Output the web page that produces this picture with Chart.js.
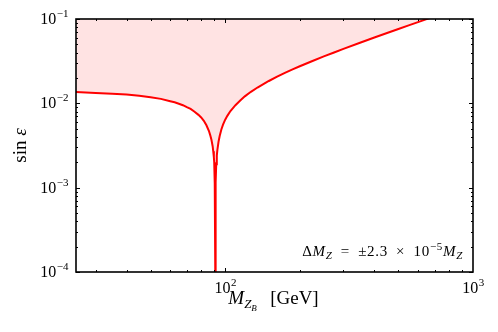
<!DOCTYPE html>
<html>
<head>
<meta charset="utf-8">
<script src="https://cdn.jsdelivr.net/npm/chart.js@4.4.0/dist/chart.umd.min.js"></script>
<style>
  html, body { margin: 0; padding: 0; background: #fff; }
  canvas { display: block; }
</style>
</head>
<body>
<canvas id="chart" width="498" height="332"></canvas>
<script>
// curve: M_ZB [GeV] -> sin eps
const massGeV = [25, 30, 35, 40, 45, 50, 55, 60, 62.5, 65, 67.5, 70, 72.5, 75, 78, 80, 82, 84, 86, 87, 88, 89, 89.5, 90, 90.3, 90.6, 90.9, 91.19,
                 91.5, 92, 92.5, 93, 94, 95, 96.5, 98, 100, 102, 105, 110, 115, 120, 127, 135, 142, 150, 162, 175, 187, 200,
                 225, 250, 275, 300, 350, 400, 450, 500, 550, 600, 650, 700];
const sinEps = [0.0136, 0.0133, 0.0130, 0.0127, 0.0123, 0.0118, 0.0113, 0.0106, 0.0103, 0.0099, 0.0095, 0.0090, 0.0086, 0.0080, 0.0073, 0.0068, 0.0062, 0.0055, 0.0047, 0.0042, 0.0037, 0.0031, 0.0027, 0.0023, 0.0020, 0.0016, 0.00112, 0.0001,
                0.00116, 0.0019, 0.0024, 0.0028, 0.0035, 0.0041, 0.0049, 0.0056, 0.0064, 0.0071, 0.0081, 0.0095, 0.0108, 0.0121, 0.0137, 0.0154, 0.0168, 0.0184, 0.0207, 0.0231, 0.0253, 0.0275,
                0.0318, 0.0360, 0.0401, 0.0442, 0.0523, 0.0603, 0.0682, 0.0761, 0.0839, 0.0918, 0.0996, 0.1074];

const xMajor = [100, 1000];
const xMinor = [30, 40, 50, 60, 70, 80, 90, 200, 300, 400, 500, 600, 700, 800, 900];
const yMajor = [1e-4, 1e-3, 1e-2, 1e-1];
const yMajorExp = ['\u22124', '\u22123', '\u22122', '\u22121'];
const yMinorMant = [2, 3, 4, 5, 6, 7, 8, 9];

const serif = '"Liberation Serif", "DejaVu Serif", serif';

const points = massGeV.map((m, i) => ({ x: m, y: sinEps[i] }));

function drawPow(ctx, exp, x, y, align) {
  // "10" with a raised exponent
  ctx.font = '16px ' + serif;
  const wb = ctx.measureText('10').width;
  ctx.font = '11px ' + serif;
  const we = ctx.measureText(exp).width;
  let x0 = x;
  if (align === 'right') x0 = x - wb - we;
  if (align === 'center') x0 = x - (wb + we) / 2;
  ctx.textAlign = 'left';
  ctx.textBaseline = 'alphabetic';
  ctx.font = '16px ' + serif;
  ctx.fillText('10', x0, y);
  ctx.font = '11px ' + serif;
  ctx.fillText(exp, x0 + wb + 0.5, y - 7);
}

function drawRuns(ctx, runs, x, y) {
  runs.forEach(p => {
    ctx.font = p[1];
    ctx.fillText(p[0], x, y + p[2]);
    x += ctx.measureText(p[0]).width;
  });
}

function runsWidth(ctx, runs) {
  let w = 0;
  runs.forEach(p => { ctx.font = p[1]; w += ctx.measureText(p[0]).width; });
  return w;
}

const framePlugin = {
  id: 'frame',
  afterDraw(chart) {
    const ctx = chart.ctx;
    const a = chart.chartArea;
    const xs = chart.scales.x, ys = chart.scales.y;
    ctx.save();
    ctx.fillStyle = '#000';
    ctx.strokeStyle = '#000';

    // ticks, inward on all sides
    ctx.lineWidth = 1;
    ctx.beginPath();
    xMajor.concat(xMinor).forEach(v => {
      const len = xMajor.includes(v) ? 4 : 2;
      const px = Math.round(xs.getPixelForValue(v)) + 0.5;
      if (px < a.left || px > a.right) return;
      ctx.moveTo(px, a.bottom); ctx.lineTo(px, a.bottom - len);
      ctx.moveTo(px, a.top); ctx.lineTo(px, a.top + len);
    });
    yMajor.forEach((v, i) => {
      const ticks = [[v, 4]];
      if (i < yMajor.length - 1) yMinorMant.forEach(m => ticks.push([v * m, 2]));
      ticks.forEach(([t, len]) => {
        const py = Math.round(ys.getPixelForValue(t)) + 0.5;
        ctx.moveTo(a.left, py); ctx.lineTo(a.left + len, py);
        ctx.moveTo(a.right, py); ctx.lineTo(a.right - len, py);
      });
    });
    ctx.stroke();

    // frame
    ctx.lineWidth = 1.6;
    ctx.strokeRect(a.left, a.top, a.right - a.left, a.bottom - a.top);

    // tick labels
    drawPow(ctx, '2', xs.getPixelForValue(100), a.bottom + 21, 'center');
    drawPow(ctx, '3', xs.getPixelForValue(1000), a.bottom + 21, 'center');
    yMajor.forEach((v, i) => {
      drawPow(ctx, yMajorExp[i], a.left - 8, ys.getPixelForValue(v) + 5, 'right');
    });

    // x label: M_{Z_B} [GeV]
    const xl = [
      ['M', 'italic 19px ' + serif, 0],
      ['Z', 'italic 13px ' + serif, 4],
      ['B', 'italic 9px ' + serif, 7],
      ['\u2002\u2009[GeV]', '19px ' + serif, 0]
    ];
    drawRuns(ctx, xl, (a.left + a.right) / 2 - runsWidth(ctx, xl) / 2 - 1, 304);

    // y label: sin eps
    ctx.save();
    ctx.translate(26, (a.top + a.bottom) / 2);
    ctx.rotate(-Math.PI / 2);
    const yl = [
      ['sin ', '19px ' + serif, 0],
      ['\u03B5', 'italic 19px ' + serif, 0]
    ];
    drawRuns(ctx, yl, -runsWidth(ctx, yl) / 2, 0);
    ctx.restore();

    // annotation
    const ann = [
      ['\u0394', '15px ' + serif, 0],
      ['M', 'italic 15px ' + serif, 0],
      ['Z', 'italic 11px ' + serif, 3],
      ['\u2002=\u2002\u00B12.3\u2002\u00D7\u200210', '15px ' + serif, 0],
      ['\u22125', '11px ' + serif, -6],
      ['M', 'italic 15px ' + serif, 0],
      ['Z', 'italic 11px ' + serif, 3]
    ];
    ctx.letterSpacing = '0.7px';
    const aw = runsWidth(ctx, ann);
    drawRuns(ctx, ann, 463 - aw, 256);
    ctx.letterSpacing = '0px';

    ctx.restore();
  }
};

new Chart(document.getElementById('chart').getContext('2d'), {
  type: 'line',
  data: {
    datasets: [{
      data: points,
      borderColor: '#ff0000',
      borderWidth: 2,
      backgroundColor: 'rgba(255, 0, 0, 0.11)',
      fill: 'end',
      pointRadius: 0,
      tension: 0
    }]
  },
  options: {
    responsive: false,
    animation: false,
    layout: { padding: { left: 76, right: 25, top: 19, bottom: 60 } },
    scales: {
      x: { type: 'logarithmic', min: 25, max: 1000, display: false },
      y: { type: 'logarithmic', min: 1e-4, max: 0.1, display: false }
    },
    plugins: {
      legend: { display: false },
      tooltip: { enabled: false }
    }
  },
  plugins: [framePlugin]
});
</script>
</body>
</html>
